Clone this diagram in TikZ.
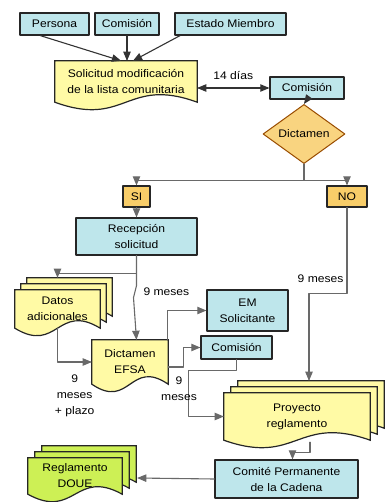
\documentclass[tikz,border=0pt]{standalone}
\usepackage{fontspec}
\setmainfont{Liberation Sans}[FakeStretch=1.1]
\usepackage{tikz}
\usetikzlibrary{arrows,shapes.geometric,calc,backgrounds}

\definecolor{cajaazul}{RGB}{190,230,235}
\definecolor{papel}{RGB}{255,250,165}
\definecolor{naranja}{RGB}{248,205,105}
\definecolor{verde}{RGB}{205,240,85}
\definecolor{linea}{RGB}{105,105,105}

% hoja con el borde de abajo ondulado, detras del nodo #1
\newcommand{\hoja}[2]{%
\draw[#2] (#1.north west) -- (#1.north east) -- (#1.south east)
  .. controls ($(#1.south east)!0.5!(#1.south west)+(0,-26)$) and ($(#1.south east)!0.5!(#1.south west)+(0,26)$) .. (#1.south west) -- cycle;}

\begin{document}
\begin{tikzpicture}[line cap=round,line join=round,>=triangle 45,x=1pt,y=-1pt,
  font=\fontsize{11}{16}\selectfont,
  azul/.style={draw=black!85,line width=1.3pt,fill=cajaazul,inner sep=0pt,align=center,minimum height=22},
  hojatxt/.style={inner sep=0pt,align=center},
  hojaam/.style={draw=black!85,line width=1.2pt,fill=papel},
  hojaver/.style={draw=black!85,line width=1.2pt,fill=verde},
  sino/.style={draw=black!85,line width=1.2pt,fill=naranja,inner sep=0pt,minimum width=#1,minimum height=21},
  rombo/.style={diamond,draw=orange!60!black,line width=1pt,fill=naranja!85!white,inner sep=0pt,minimum width=82,minimum height=42},
  flecha/.style={->,draw=linea,line width=1.1pt},
  etq/.style={inner sep=0pt,align=center}]
\useasboundingbox (0,0) rectangle (387,502);

% cajas de arriba
\node[azul,minimum width=69] (persona) at (54.5,24) {Persona};
\node[azul,minimum width=64] (comA) at (127,24) {Comisión};
\node[azul,minimum width=111] (estado) at (230.5,24) {Estado Miembro};

\node[hojatxt,minimum width=142,minimum height=41] (solic) at (126,81.5) {Solicitud modificación\\de la lista comunitaria};
\node[azul,minimum width=74] (comB) at (307,88) {Comisión};
\node[rombo] (dict) at (304,134) {Dictamen};

\node[sino=27] (si) at (136.5,196.5) {SI};
\node[sino=40] (no) at (347,196.5) {NO};
\node[azul,minimum width=121,minimum height=37] (recep) at (136.5,236.5) {Recepción\\solicitud};

\node[hojatxt,minimum width=85,minimum height=38] (datos) at (57.5,309) {Datos\\adicionales};
\node[hojatxt,minimum width=76,minimum height=44] (dictE) at (130,362) {Dictamen\\EFSA};
\node[azul,minimum width=81,minimum height=41] (em) at (247.5,310.5) {EM\\Solicitante};
\node[azul,minimum width=71,minimum height=23] (comC) at (236.5,347.5) {Comisión};

\node[hojatxt,minimum width=146,minimum height=47] (proy) at (297,416.5) {Proyecto\\reglamento};
\node[azul,minimum width=143,minimum height=38] (comite) at (286.5,479) {Comité Permanente\\de la Cadena};
\node[hojatxt,minimum width=94,minimum height=36] (regl) at (75,476) {Reglamento\\DOUE};

% hojas (fondo)
\begin{scope}[on background layer]
\hoja{solic}{hojaam}
\hoja{datos}{hojaam,transform canvas={shift={(12,-12)}}}
\hoja{datos}{hojaam,transform canvas={shift={(6,-6)}}}
\hoja{datos}{hojaam}
\hoja{dictE}{hojaam}
\hoja{proy}{hojaam,transform canvas={shift={(14,-12)}}}
\hoja{proy}{hojaam,transform canvas={shift={(7,-6)}}}
\hoja{proy}{hojaam}
\hoja{regl}{hojaver,transform canvas={shift={(14,-12)}}}
\hoja{regl}{hojaver,transform canvas={shift={(7,-6)}}}
\hoja{regl}{hojaver}
\end{scope}

% flechas
\draw[flecha,draw=black!80] ($(persona.south west)!0.3!(persona.south east)$) -- ($(solic.north)+(-5,0)$);
\draw[flecha,draw=black!80] (comA.south) -- ($(solic.north)+(1,0)$);
\draw[flecha,draw=black!80] ($(estado.south west)!0.05!(estado.south east)$) -- ($(solic.north)+(7,0)$);
\draw[<->,draw=black!80,line width=1.1pt] (solic.east |- comB.west) -- node[etq,above=8pt] (dias) {14 días} (comB.west);
\draw[flecha,draw=black!80] (comB.south) -- (dict.north);

\draw[linea,line width=1.1pt] (dict.south) -- ++(0,16) coordinate (rama);
\draw[flecha] (rama) -| (si.north);
\draw[flecha] (rama) -| (no.north);
\draw[flecha] (si.south) -- (recep.north);

\draw[flecha] (no.south) -- node[etq,pos=0.83,left=3pt] (mesesno) {9 meses} ++(0,86) -| ($(proy.north)+(12,-12)$);
\draw[flecha] (recep.south) -- ++(0,18) -| ($(datos.north)+(0,-12)$);
\draw[flecha] (recep.south) -- ++(0,30) -- node[etq,right=8pt] (mesesre) {9 meses} ++(-3,12) -- (recep.south |- dictE.north);
\draw[flecha] (datos.south) |- node[etq,pos=0.75,below=12pt] (plazo) {9\\meses\\+ plazo} (dictE.west);
\draw[flecha] ($(dictE.north east)+(-1,0)$) |- (em.west);
\draw[flecha] ($(dictE.east)+(0,5)$) -- ++(15,0) |- (comC.west);
\draw[flecha] (comC.south) -- ++(0,11) -| ($(proy.west)+(-35,0)$) -- (proy.west);
\node[etq] (mesescom) at (179,389) {9\\meses};
\draw[flecha] ($(proy.south)+(13,2)$) -- ++(0,10) -| ($(comite.north)+(6,0)$);
\draw[flecha] (comite.west) -- ($(regl.east)+(15,2)$);
\end{tikzpicture}
\end{document}
